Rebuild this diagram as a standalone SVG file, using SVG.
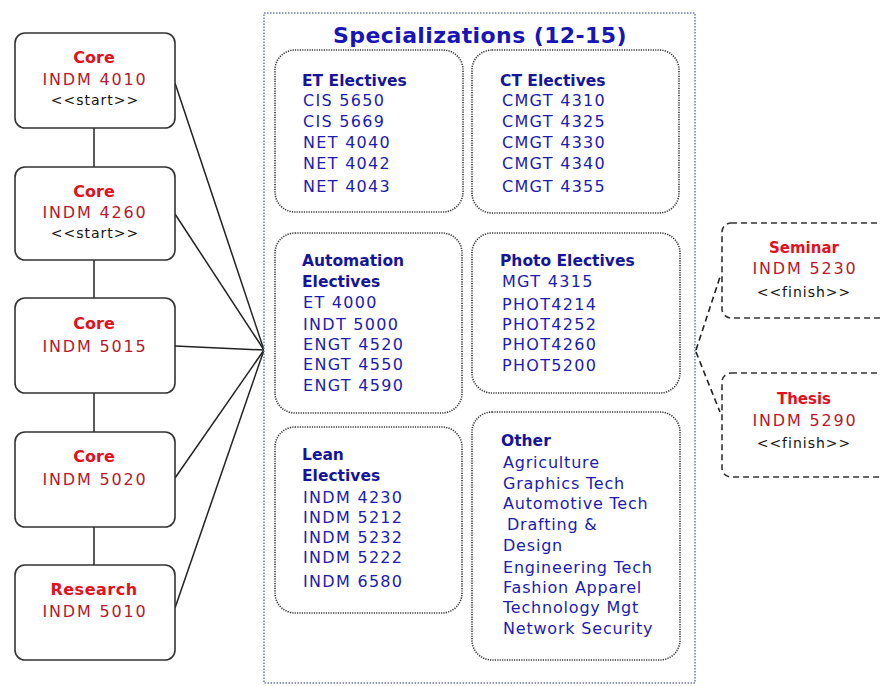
<svg xmlns="http://www.w3.org/2000/svg" width="880" height="686" viewBox="0 0 880 686">
<style>
.core{fill:#fff;stroke:#333;stroke-width:1.6}
.fin{fill:#fff;stroke:#333;stroke-width:1.6;stroke-dasharray:6 4}
.lbl{font-family:"DejaVu Sans",Verdana,sans-serif;font-weight:bold;font-size:16px;fill:#e3101e;text-anchor:middle}
.code{font-family:"DejaVu Sans",Verdana,sans-serif;font-size:16px;fill:#b8182e;text-anchor:middle;letter-spacing:1.8px}
.st{font-family:"DejaVu Sans",Verdana,sans-serif;font-size:14px;fill:#111;text-anchor:middle;letter-spacing:1px}
.outer{fill:#fff;stroke:#6a78a8;stroke-width:1.5;stroke-dasharray:1.5 1.5}
.inner{fill:#fff;stroke:#333;stroke-width:1.6;stroke-dasharray:1.2 1.2}
.title{font-family:"DejaVu Sans",Verdana,sans-serif;font-weight:bold;font-size:22px;fill:#1616b8;text-anchor:middle;letter-spacing:0.4px}
.hd{font-family:"DejaVu Sans",Verdana,sans-serif;font-weight:bold;font-size:15.5px;fill:#15159c}
.it{font-family:"DejaVu Sans",Verdana,sans-serif;font-size:16px;fill:#1c1cb0;letter-spacing:1.3px}
.ot{font-family:"DejaVu Sans",Verdana,sans-serif;font-size:16px;fill:#1c1cb0;letter-spacing:0.8px}
.ln{stroke:#222;stroke-width:1.5;fill:none}
.dl{stroke:#222;stroke-width:1.6;fill:none;stroke-dasharray:6 4}
</style>
<rect width="880" height="686" fill="#fff"/>
<g id="connectors">
<line class="ln" x1="94" y1="128" x2="94" y2="167"/>
<line class="ln" x1="94" y1="260" x2="94" y2="298"/>
<line class="ln" x1="94" y1="393" x2="94" y2="432"/>
<line class="ln" x1="94" y1="527" x2="94" y2="565"/>
<line class="ln" x1="175" y1="83" x2="264" y2="350"/>
<line class="ln" x1="175" y1="214" x2="264" y2="350"/>
<line class="ln" x1="175" y1="346" x2="264" y2="350"/>
<line class="ln" x1="175" y1="478" x2="264" y2="350"/>
<line class="ln" x1="175" y1="608" x2="264" y2="350"/>
<line class="dl" x1="696" y1="350" x2="721" y2="274"/>
<line class="dl" x1="696" y1="352" x2="720" y2="412"/>
</g>
<g id="core-4010">
<rect class="core" x="15" y="33" width="160" height="95" rx="10"/>
<text class="lbl" x="94" y="63">Core</text>
<text class="code" x="95" y="85">INDM 4010</text>
<text class="st" x="95" y="105">&lt;&lt;start&gt;&gt;</text>
</g>
<g id="core-4260">
<rect class="core" x="15" y="167" width="160" height="93" rx="10"/>
<text class="lbl" x="94" y="197">Core</text>
<text class="code" x="95" y="218">INDM 4260</text>
<text class="st" x="95" y="238">&lt;&lt;start&gt;&gt;</text>
</g>
<g id="core-5015">
<rect class="core" x="15" y="298" width="160" height="95" rx="10"/>
<text class="lbl" x="94" y="329">Core</text>
<text class="code" x="95" y="352">INDM 5015</text>
</g>
<g id="core-5020">
<rect class="core" x="15" y="432" width="160" height="95" rx="10"/>
<text class="lbl" x="94" y="462">Core</text>
<text class="code" x="95" y="485">INDM 5020</text>
</g>
<g id="research-5010">
<rect class="core" x="15" y="565" width="160" height="95" rx="10"/>
<text class="lbl" x="94" y="595" style="letter-spacing:0.5px">Research</text>
<text class="code" x="95" y="617">INDM 5010</text>
</g>
<g id="specializations">
<rect class="outer" x="264" y="13" width="431" height="670"/>
<text class="title" x="480" y="43">Specializations (12-15)</text>
</g>
<g id="et-electives">
<rect class="inner" x="275" y="50" width="188" height="162" rx="20"/>
<text class="hd" x="302" y="86">ET Electives</text>
<text class="it" x="303" y="106">CIS 5650</text>
<text class="it" x="303" y="127">CIS 5669</text>
<text class="it" x="303" y="148">NET 4040</text>
<text class="it" x="303" y="169">NET 4042</text>
<text class="it" x="303" y="192">NET 4043</text>
</g>
<g id="ct-electives">
<rect class="inner" x="472" y="50" width="207" height="163" rx="20"/>
<text class="hd" x="500" y="86">CT Electives</text>
<text class="it" x="502" y="106">CMGT 4310</text>
<text class="it" x="502" y="127">CMGT 4325</text>
<text class="it" x="502" y="148">CMGT 4330</text>
<text class="it" x="502" y="169">CMGT 4340</text>
<text class="it" x="502" y="192">CMGT 4355</text>
</g>
<g id="automation-electives">
<rect class="inner" x="275" y="233" width="187" height="180" rx="20"/>
<text class="hd" x="302" y="266">Automation</text>
<text class="hd" x="302" y="287">Electives</text>
<text class="it" x="303" y="308">ET 4000</text>
<text class="it" x="303" y="330">INDT 5000</text>
<text class="it" x="303" y="350">ENGT 4520</text>
<text class="it" x="303" y="370">ENGT 4550</text>
<text class="it" x="303" y="391">ENGT 4590</text>
</g>
<g id="photo-electives">
<rect class="inner" x="472" y="233" width="208" height="160" rx="20"/>
<text class="hd" x="500" y="266">Photo Electives</text>
<text class="it" x="502" y="287">MGT 4315</text>
<text class="it" x="502" y="310">PHOT4214</text>
<text class="it" x="502" y="330">PHOT4252</text>
<text class="it" x="502" y="350">PHOT4260</text>
<text class="it" x="502" y="371">PHOT5200</text>
</g>
<g id="lean-electives">
<rect class="inner" x="275" y="427" width="187" height="186" rx="20"/>
<text class="hd" x="302" y="460">Lean</text>
<text class="hd" x="302" y="481">Electives</text>
<text class="it" x="303" y="503">INDM 4230</text>
<text class="it" x="303" y="523">INDM 5212</text>
<text class="it" x="303" y="543">INDM 5232</text>
<text class="it" x="303" y="563">INDM 5222</text>
<text class="it" x="303" y="587">INDM 6580</text>
</g>
<g id="other">
<rect class="inner" x="472" y="412" width="208" height="248" rx="20"/>
<text class="hd" x="501" y="446">Other</text>
<text class="ot" x="503" y="468">Agriculture</text>
<text class="ot" x="503" y="489">Graphics Tech</text>
<text class="ot" x="503" y="509">Automotive Tech</text>
<text class="ot" x="507" y="530">Drafting &amp;</text>
<text class="ot" x="503" y="551">Design</text>
<text class="ot" x="503" y="573">Engineering Tech</text>
<text class="ot" x="503" y="593">Fashion Apparel</text>
<text class="ot" x="503" y="613">Technology Mgt</text>
<text class="ot" x="503" y="634">Network Security</text>
</g>
<g id="seminar-5230">
<rect class="fin" x="722" y="223" width="190" height="95" rx="9"/>
<text class="lbl" x="804" y="253" style="font-size:15px">Seminar</text>
<text class="code" x="805" y="274">INDM 5230</text>
<text class="st" x="804" y="297">&lt;&lt;finish&gt;&gt;</text>
</g>
<g id="thesis-5290">
<rect class="fin" x="722" y="373" width="190" height="104" rx="9"/>
<text class="lbl" x="804" y="404" style="font-size:15px">Thesis</text>
<text class="code" x="805" y="426">INDM 5290</text>
<text class="st" x="804" y="448">&lt;&lt;finish&gt;&gt;</text>
</g>
</svg>
